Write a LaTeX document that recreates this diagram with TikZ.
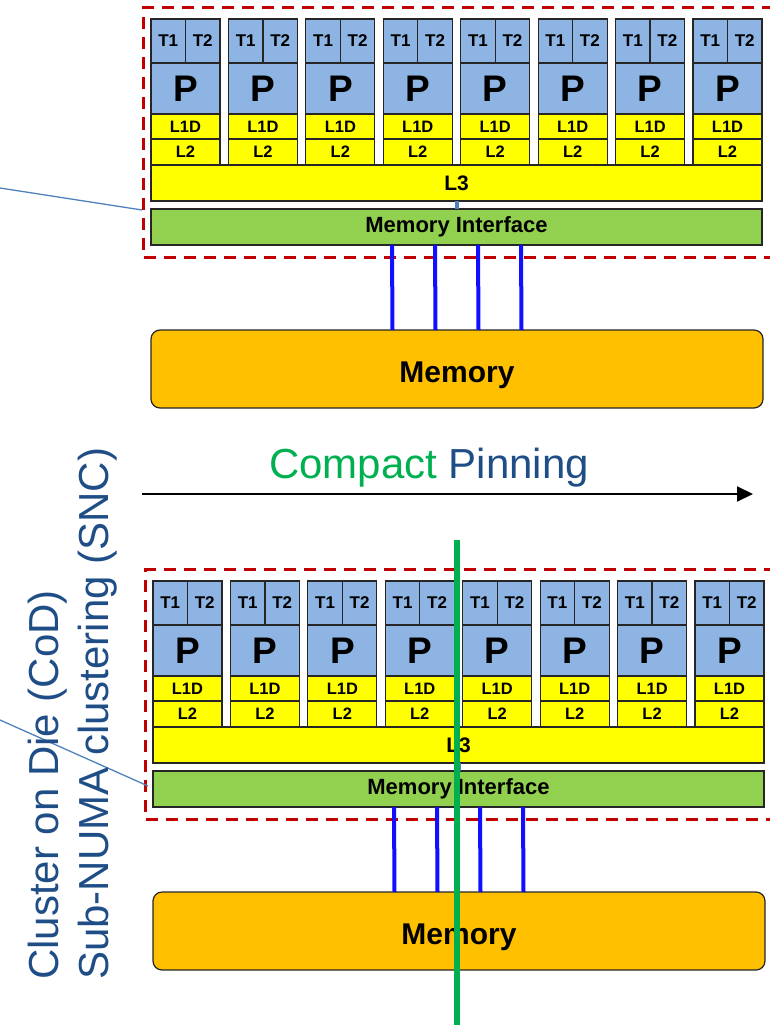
\documentclass[tikz,border=0pt]{standalone}
\usepackage{fontspec}
\setmainfont{Liberation Sans}
\usetikzlibrary{arrows.meta,positioning}
\definecolor{CoreBlue}  {HTML}{8DB4E2}
\definecolor{CacheYellow}{HTML}{FFFF00}
\definecolor{IfGreen}   {HTML}{92D050}
\definecolor{MemOrange} {HTML}{FFC000}
\definecolor{FrameRed}  {HTML}{C00000}
\definecolor{BusBlue}   {HTML}{1010FF}
\definecolor{PinGreen}  {HTML}{00B050}
\definecolor{TextBlue}  {HTML}{1F4E87}
\definecolor{LinkBlue}  {HTML}{4F81BD}
\tikzset{
  cell/.style={rectangle,draw=black!85,line width=1.2pt,fill=#1,inner sep=0pt,
               outer sep=0pt,anchor=north west},
  tcell/.style={cell=CoreBlue,minimum width=34.5pt,minimum height=44pt,
                font=\fontsize{17}{17}\selectfont\bfseries},
  pcell/.style={cell=CoreBlue,minimum width=69pt,minimum height=51pt,
                font=\fontsize{37}{37}\selectfont\bfseries},
  ccell/.style={cell=CacheYellow,minimum width=69pt,minimum height=#1,
                font=\fontsize{16.5}{16.5}\selectfont\bfseries},
  l3bar/.style={cell=CacheYellow,minimum width=611pt,minimum height=36pt,
                font=\fontsize{21}{21}\selectfont\bfseries},
  mibar/.style={cell=IfGreen,minimum width=611pt,minimum height=36pt,
                font=\fontsize{22}{22}\selectfont\bfseries},
  membox/.style={cell=MemOrange,rounded corners=9pt,minimum width=612pt,
                 minimum height=78pt,text height=26pt,text depth=0pt,
                 font=\fontsize{30}{30}\selectfont\bfseries},
  frame/.style={rectangle,draw=FrameRed,line width=3pt,
                dash pattern=on 12pt off 8pt,anchor=north west,inner sep=0pt,
                minimum width=640pt,minimum height=250pt},
  bus/.style={BusBlue,line width=4pt},
  stub/.style={LinkBlue,line width=4pt},
  callout/.style={LinkBlue,line width=1.3pt},
  pinarr/.style={-{Triangle[length=16pt,width=15pt]},line width=2pt,black},
  cutline/.style={PinGreen,line width=6pt},
  sidetxt/.style={rotate=90,anchor=base west,inner sep=0pt,TextBlue,
                  font=\fontsize{42}{42}\selectfont},
}
\begin{document}
\begin{tikzpicture}[x=1pt,y=-1pt]
  \useasboundingbox (0,0) rectangle (769,1025);

  % two sockets, the second one shifted down
  \foreach \blk/\dx/\dy in {a/0/0,b/2/562}{
    \begin{scope}[shift={(\dx,\dy)}]
      \node[frame] (frame-\blk) at (142,6) {};
      \foreach \i in {0,...,7}{
        \pgfmathsetmacro\cx{151+77.43*\i}
        \node[tcell] (t1-\blk\i) at (\cx,19) {T1};
        \node[tcell] (t2-\blk\i) at (t1-\blk\i.north east) {T2};
        \node[pcell] (p-\blk\i) at (\cx,63) {P};
        \node[ccell=25pt] (l1-\blk\i) at (\cx,114) {L1D};
        \node[ccell=26pt] (l2-\blk\i) at (\cx,139) {L2};
      }
      \node[l3bar] (l3-\blk) at (151,165) {L3};
      \node[mibar] (mi-\blk) at (151,209) {Memory Interface};
      \node[membox] (mem-\blk) at (151,330) {Memory};
      \draw[stub] (l3-\blk.south) -- (mi-\blk.north);
      \foreach \o in {-64.5,-21.5,21.5,64.5}
        \draw[bus] ([xshift=\o pt]mi-\blk.south) -- ([xshift=\o pt]mem-\blk.north);
    \end{scope}
  }

  % callout lines from the left
  \coordinate (ca) at (0,188);
  \coordinate (cb) at (0,720);
  \draw[callout] (ca) -- ([yshift=49pt]frame-a.south west);
  \draw[callout] (cb) -- ([xshift=-5pt,yshift=3pt]mi-b.west);

  % pinning arrow
  \node[anchor=base,inner sep=0pt,font=\fontsize{42}{42}\selectfont]
    (pintxt) at (429,478)
    {\textcolor{PinGreen}{Compact} \textcolor{TextBlue}{Pinning}};
  \coordinate (pin-s) at (142,494);
  \coordinate (pin-e) at (753,494);
  \draw[pinarr] (pin-s) -- (pin-e);

  % side labels
  \node[sidetxt] (cod) at (58,980) {Cluster on Die (CoD)};
  \node[sidetxt] (snc) at (108,980) {Sub-NUMA clustering (SNC)};

  % cut through the lower socket
  \coordinate (cut-t) at (457,540);
  \coordinate (cut-b) at (457,1030);
  \draw[cutline] (cut-t) -- (cut-b);
\end{tikzpicture}
\end{document}
